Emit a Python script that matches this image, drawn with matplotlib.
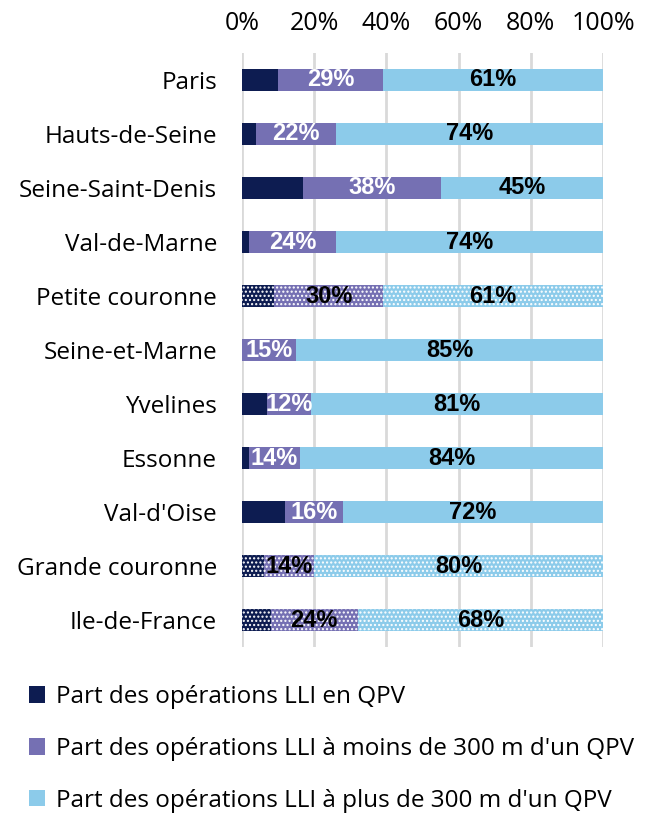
import matplotlib
matplotlib.use("Agg")
import matplotlib.pyplot as plt
from matplotlib.patches import Patch

categories = ["Paris", "Hauts-de-Seine", "Seine-Saint-Denis", "Val-de-Marne",
              "Petite couronne", "Seine-et-Marne", "Yvelines", "Essonne",
              "Val-d'Oise", "Grande couronne", "Ile-de-France"]
en_qpv = [10, 4, 17, 2, 9, 0, 7, 2, 12, 6, 8]
moins_300 = [29, 22, 38, 24, 30, 15, 12, 14, 16, 14, 24]
plus_300 = [61, 74, 45, 74, 61, 85, 81, 84, 72, 80, 68]
hatched = [False, False, False, False, True, False, False, False, False, True, True]
series_names = ["Part des opérations LLI en QPV",
                "Part des opérations LLI à moins de 300 m d'un QPV",
                "Part des opérations LLI à plus de 300 m d'un QPV"]
xticks = [0, 20, 40, 60, 80, 100]

colors = ["#0d1c51", "#7570b3", "#8ccbea"]
label_font = "Open Sans"

plt.rcParams['hatch.linewidth'] = 1.0
fig = plt.figure(figsize=(6.51, 8.13), dpi=100)
ax = fig.add_axes([242/651, 1-647/813, (603-242)/651, (647-53)/813])

y = list(range(len(categories)))
bar_h = 0.4
left = [0]*len(categories)
for si, vals in enumerate([en_qpv, moins_300, plus_300]):
    for i, v in enumerate(vals):
        kw = dict(color=colors[si], height=bar_h, left=left[i], linewidth=0, zorder=3)
        if hatched[i]:
            kw.update(hatch="....", edgecolor="white")
        ax.barh(y[i], v, **kw)
        if si > 0:
            txt_color = "white" if (si == 1 and not hatched[i]) else "black"
            ax.text(left[i] + v/2, y[i], f"{v}%", ha="center", va="center",
                    color=txt_color, fontsize=17, fontweight="bold",
                    family="Liberation Sans", zorder=5)
        left[i] += v

ax.set_xlim(0, 100)
ax.set_ylim(len(categories)-0.5, -0.5)
ax.set_yticks(y)
ax.set_yticklabels(categories, fontsize=17.5, family=label_font)
ax.set_xticks(xticks)
ax.set_xticklabels([f"{t}%" for t in xticks], fontsize=18, family=label_font)
ax.xaxis.tick_top()
ax.tick_params(length=0)
ax.tick_params(axis="x", pad=12)
ax.tick_params(axis="y", pad=18)
for s in ax.spines.values():
    s.set_visible(False)
ax.grid(axis="x", color="#d9d9d9", linewidth=2, zorder=0)
ax.set_axisbelow(True)

handles = [Patch(facecolor=c, edgecolor="none") for c in colors]
fig.legend(handles, series_names, loc="upper left", bbox_to_anchor=(0.045, 1-685/813),
           frameon=False, prop={"family": label_font, "size": 17.5},
           handlelength=0.65, handleheight=0.65, handletextpad=0.45, labelspacing=1.15,
           borderaxespad=0, borderpad=0)

fig.savefig("out.png", dpi=100)
